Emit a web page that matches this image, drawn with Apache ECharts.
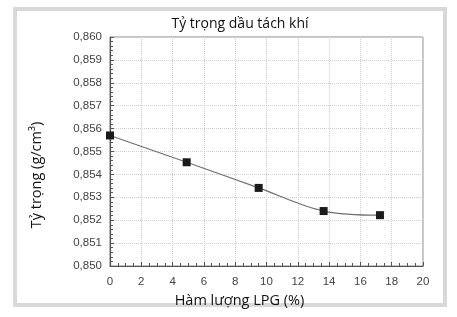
<!DOCTYPE html>
<html><head><meta charset="utf-8">
<script src="https://cdn.jsdelivr.net/npm/echarts@6/dist/echarts.min.js"></script>
<style>html,body{margin:0;padding:0;background:#fff}#c{width:457px;height:317px}</style>
</head><body><div id="c"></div>
<script>
const lpg = [0, 4.9, 9.5, 13.65, 17.25];
const density = [0.8557, 0.85453, 0.85341, 0.8524, 0.85222];
const yTicks = [0.850, 0.851, 0.852, 0.853, 0.854, 0.855, 0.856, 0.857, 0.858, 0.859, 0.860];
const titleText = 'Tỷ trọng dầu tách khí';
const xName = 'Hàm lượng LPG (%)';
const yName = 'Tỷ trọng (g/cm³)';

const chart = echarts.init(document.getElementById('c'), null, {renderer:'canvas'});
const tickFont = {fontFamily:'Liberation Sans', fontSize:11.5, color:'#444'};
chart.setOption({
  animation:false,
  backgroundColor:'#fff',
  graphic:[
    {type:'rect', shape:{x:15,y:9,width:430,height:296}, style:{fill:'none', stroke:'#d9d9d9', lineWidth:4}, z:-1},
    {type:'text', x:37, y:175, rotation:Math.PI/2,
      style:{text:yName, fontFamily:'Open Sans', fontSize:14.5, fill:'#111', align:'center', verticalAlign:'middle'}}
  ],
  title:{text:titleText, left:235, top:12, textAlign:'center',
    textStyle:{fontFamily:'Open Sans', fontSize:14, fontWeight:'normal', color:'#111'}},
  grid:{left:110, right:34, top:37, bottom:51, show:true, borderColor:'#8a8a8a', borderWidth:1},
  xAxis:{type:'value', min:0, max:20, interval:2,
    name:xName, nameLocation:'middle', nameGap:24,
    nameTextStyle:{fontFamily:'Open Sans', fontSize:14.5, color:'#111', padding:[0,54,0,0]},
    axisLine:{lineStyle:{color:'#555', width:1.2}},
    axisTick:{inside:true, length:4, lineStyle:{color:'#555'}},
    minorTick:{show:true, splitNumber:4, length:3, lineStyle:{color:'#555'}},
    axisLabel:Object.assign({margin:10}, tickFont),
    splitLine:{show:true, lineStyle:{color:'#cfcfcf', type:'dotted'}}},
  yAxis:{type:'value', min:0.850, max:0.860, interval:0.001,
    axisLine:{show:true, lineStyle:{color:'#555', width:1.2}},
    axisTick:{show:true, inside:true, length:4, lineStyle:{color:'#555'}},
    minorTick:{show:true, splitNumber:5, length:3, lineStyle:{color:'#555'}},
    axisLabel:Object.assign({margin:8, formatter:v=>v.toFixed(3).replace('.',',')}, tickFont),
    splitLine:{show:true, lineStyle:{color:'#cfcfcf', type:'dotted'}}},
  series:[{type:'line', data:lpg.map((x,i)=>[x,density[i]]), smooth:0.35,
    lineStyle:{color:'#707070', width:1.2},
    symbol:'rect', symbolSize:8, itemStyle:{color:'#1a1a1a'}}]
});
</script></body></html>
